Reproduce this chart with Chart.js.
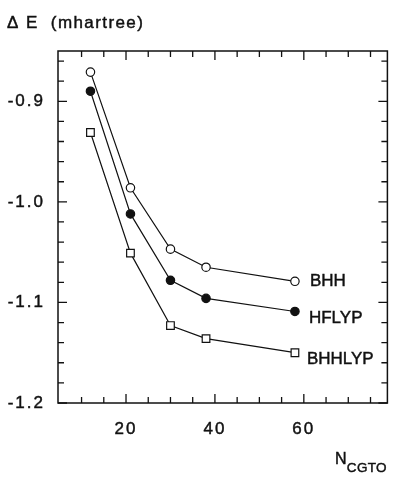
<!DOCTYPE html>
<html>
<head>
<meta charset="utf-8">
<script src="https://cdn.jsdelivr.net/npm/chart.js@4.4.0/dist/chart.umd.min.js"></script>
<style>
  html, body { margin: 0; padding: 0; background: #fff; }
  #wrap { width: 394px; height: 477px; position: relative; }
</style>
</head>
<body>
<div id="wrap"><canvas id="c" width="394" height="477"></canvas></div>
<script>
// ---- data ----
const nCGTO = [12, 21, 30, 38, 58];
const bhh    = [-0.871, -0.986, -1.047, -1.065, -1.079];
const hflyp  = [-0.890, -1.012, -1.078, -1.096, -1.109];
const bhhlyp = [-0.931, -1.051, -1.123, -1.136, -1.150];
const seriesNames = ['BHH', 'HFLYP', 'BHHLYP'];

// ---- tick labels ----
const xTickLabels = [20, 40, 60];
const yTickLabels = [-0.9, -1.0, -1.1, -1.2];
const xMinorTicks = [10, 15, 25, 30, 35, 45, 50, 55, 65, 70, 75];
const yMinorTicks = [-0.86, -0.88, -0.92, -0.94, -0.96, -0.98, -1.02, -1.04, -1.06, -1.08, -1.12, -1.14, -1.16, -1.18];

const FONT = '"Liberation Sans", Arial, Helvetica, sans-serif';
const INK = '#111';

function heavyText(ctx, txt, x, y) {
  ctx.fillText(txt, x, y);
  ctx.strokeText(txt, x, y);
}

const framePlugin = {
  id: 'frame',
  beforeLayout(chart) { chart.ctx.letterSpacing = '2px'; },
  beforeDraw(chart) { chart.ctx.letterSpacing = '2px'; },
  afterDraw(chart) {
    const ctx = chart.ctx;
    const a = chart.chartArea;
    const xs = chart.scales.x, ys = chart.scales.y;
    ctx.save();
    ctx.strokeStyle = INK;
    ctx.lineWidth = 1.5;
    ctx.strokeRect(a.left, a.top, a.right - a.left, a.bottom - a.top);
    ctx.lineWidth = 1.3;
    const MAJ = 9, MIN = 6;
    ctx.beginPath();
    const xt = (v, L) => {
      const p = xs.getPixelForValue(v);
      ctx.moveTo(p, a.bottom); ctx.lineTo(p, a.bottom - L);
      ctx.moveTo(p, a.top); ctx.lineTo(p, a.top + L);
    };
    const yt = (v, L) => {
      const p = ys.getPixelForValue(v);
      ctx.moveTo(a.left, p); ctx.lineTo(a.left + L, p);
      ctx.moveTo(a.right, p); ctx.lineTo(a.right - L, p);
    };
    xTickLabels.forEach(v => xt(v, MAJ));
    xMinorTicks.forEach(v => xt(v, MIN));
    yTickLabels.forEach(v => yt(v, MAJ));
    yMinorTicks.forEach(v => yt(v, MIN));
    ctx.stroke();

    // texts
    ctx.fillStyle = INK;
    ctx.strokeStyle = INK;
    ctx.lineWidth = 0.45;
    ctx.textBaseline = 'alphabetic';
    ctx.textAlign = 'left';
    ctx.letterSpacing = '1.4px';
    ctx.font = '17px ' + FONT;
    heavyText(ctx, '\u0394 E  (mhartree)', 7, 28);

    // series labels next to last points
    ctx.font = '17px ' + FONT;
    ctx.letterSpacing = '0px';
    const offs = [[15, 0], [14, 7], [12, 7]];
    chart.data.datasets.forEach((ds, i) => {
      const last = ds.data.length - 1;
      const px = xs.getPixelForValue(ds.data[last].x);
      const py = ys.getPixelForValue(ds.data[last].y);
      ctx.textBaseline = 'middle';
      heavyText(ctx, seriesNames[i], px + offs[i][0], py + offs[i][1]);
    });

    // x axis title
    ctx.textBaseline = 'alphabetic';
    ctx.letterSpacing = '0.3px';
    ctx.font = '16px ' + FONT;
    heavyText(ctx, 'N', 335, 464);
    const nw = ctx.measureText('N').width;
    ctx.font = '13.5px ' + FONT;
    heavyText(ctx, 'CGTO', 335 + nw, 472);
    ctx.restore();
  }
};

const mk = (label, data, style, fill) => ({
  label,
  data: data.map((y, i) => ({ x: nCGTO[i], y })),
  borderColor: INK, borderWidth: 1.2,
  pointStyle: style,
  pointRadius: style === 'rect' ? 5.4 : 4.2,
  pointBorderWidth: 1.2,
  pointBorderColor: INK,
  pointBackgroundColor: fill,
  fill: false, tension: 0
});

new Chart(document.getElementById('c'), {
  type: 'line',
  data: {
    datasets: [
      mk(seriesNames[0], bhh, 'circle', '#fff'),
      mk(seriesNames[1], hflyp, 'circle', INK),
      mk(seriesNames[2], bhhlyp, 'rect', '#fff')
    ]
  },
  options: {
    responsive: false,
    animation: false,
    devicePixelRatio: 1,
    layout: { padding: { left: 0, top: 51, right: 6, bottom: 0 } },
    plugins: { legend: { display: false }, tooltip: { enabled: false }, title: { display: false } },
    scales: {
      x: {
        type: 'linear', min: 4.7, max: 78.8,
        grid: { display: false, drawTicks: false },
        border: { display: false },
        afterBuildTicks: s => { s.ticks = xTickLabels.map(v => ({ value: v })); },
        afterFit: s => { s.height = 74; },
        ticks: {
          autoSkip: false, maxRotation: 0, padding: 16, color: INK,
          textStrokeColor: INK, textStrokeWidth: 0.45,
          font: { family: FONT, size: 17 },
          callback: v => String(v)
        }
      },
      y: {
        type: 'linear', min: -1.2, max: -0.85,
        grid: { display: false, drawTicks: false },
        border: { display: false },
        afterBuildTicks: s => { s.ticks = yTickLabels.map(v => ({ value: v })); },
        afterFit: s => { s.width = 58; },
        ticks: {
          autoSkip: false, padding: 13, color: INK,
          textStrokeColor: INK, textStrokeWidth: 0.45,
          font: { family: FONT, size: 17 },
          callback: v => Number(v).toFixed(1)
        }
      }
    }
  },
  plugins: [framePlugin]
});
</script>
</body>
</html>
